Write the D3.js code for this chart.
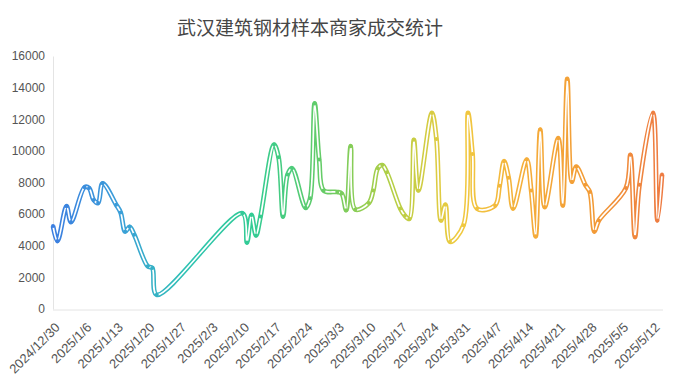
<!DOCTYPE html>
<html>
<head>
<meta charset="utf-8">
<script src="https://cdn.jsdelivr.net/npm/d3@7"></script>
<style>
  html, body { margin: 0; padding: 0; background: #fff; }
  svg { display: block; font-family: "Open Sans", "Noto Sans", sans-serif; }
</style>
</head>
<body>
<svg id="chart" width="692" height="383"></svg>
<script>
// daily deals, Wuhan construction steel sample merchants
const dates = [
  "2024-12-30", "2024-12-31", "2025-01-02", "2025-01-03",
  "2025-01-06", "2025-01-07", "2025-01-08", "2025-01-09", "2025-01-10",
  "2025-01-13", "2025-01-14", "2025-01-15", "2025-01-16", "2025-01-17",
  "2025-01-20", "2025-01-21", "2025-01-22",
  "2025-02-10", "2025-02-11", "2025-02-12", "2025-02-13", "2025-02-14",
  "2025-02-17", "2025-02-18", "2025-02-19", "2025-02-20", "2025-02-21",
  "2025-02-24", "2025-02-25", "2025-02-26", "2025-02-27", "2025-02-28",
  "2025-03-03", "2025-03-04", "2025-03-05", "2025-03-06", "2025-03-07",
  "2025-03-10", "2025-03-11", "2025-03-12", "2025-03-13", "2025-03-14",
  "2025-03-17", "2025-03-18", "2025-03-19", "2025-03-20", "2025-03-21",
  "2025-03-24", "2025-03-25", "2025-03-26", "2025-03-27", "2025-03-28",
  "2025-03-31", "2025-04-01", "2025-04-02", "2025-04-03",
  "2025-04-07", "2025-04-08", "2025-04-09", "2025-04-10", "2025-04-11",
  "2025-04-14", "2025-04-15", "2025-04-16", "2025-04-17", "2025-04-18",
  "2025-04-21", "2025-04-22", "2025-04-23", "2025-04-24", "2025-04-25",
  "2025-04-27", "2025-04-28", "2025-04-29", "2025-04-30",
  "2025-05-06", "2025-05-07", "2025-05-08", "2025-05-09",
  "2025-05-12", "2025-05-13", "2025-05-14"
];
const values = [
  5250, 4300, 6500, 5500,
  7700, 7650, 6900, 6700, 7950,
  6600, 6100, 4900, 5200, 4700,
  2700, 2600, 900,
  6050, 4200, 5950, 4650, 5850,
  10400, 9600, 5850, 8500, 8900,
  6400, 7000, 13000, 9450, 7500,
  7400, 7300, 6250, 10300, 6300,
  6700, 7500, 8900, 9100, 8650,
  6350, 5900, 5700, 10700, 7500,
  12400, 10750, 5600, 6600, 4250,
  5300, 12400, 9800, 6350,
  6550, 7800, 9350, 8300, 6350,
  9450, 7500, 4600, 11350, 6450,
  10800, 6550, 14550, 8050, 9000,
  7850, 7400, 4900, 5600,
  7650, 9750, 4550, 7850,
  12400, 5600, 8500
];
const yTicks = [0, 2000, 4000, 6000, 8000, 10000, 12000, 14000, 16000];
const title = "武汉建筑钢材样本商家成交统计";
const colorStops = ["#3b7ee0", "#3b9fd8", "#2ec3b2", "#33cc92", "#66cc66", "#b4cf45", "#f0ca40", "#f5ad3a", "#f29a36", "#ee7b42"];

const svg = d3.select("#chart");
const parse = d3.timeParse("%Y-%m-%d");
const data = dates.map((d, i) => ({ date: parse(d), value: values[i] }));

const plot = { left: 53, right: 662, top: 56, bottom: 309 };

const x = d3.scaleTime()
  .domain(d3.extent(data, d => d.date))
  .range([plot.left, plot.right]);
const y = d3.scaleLinear()
  .domain([0, 16000])
  .range([plot.bottom, plot.top]);

// horizontal gradient along the line
const grad = svg.append("defs").append("linearGradient")
  .attr("id", "lineGrad")
  .attr("gradientUnits", "userSpaceOnUse")
  .attr("x1", plot.left).attr("x2", plot.right)
  .attr("y1", 0).attr("y2", 0);
grad.selectAll("stop")
  .data(colorStops)
  .enter().append("stop")
  .attr("offset", (d, i) => i / (colorStops.length - 1))
  .attr("stop-color", d => d);

// title
svg.append("text")
  .attr("x", 310)
  .attr("y", 35)
  .attr("text-anchor", "middle")
  .attr("font-family", "'Noto Sans CJK SC', sans-serif")
  .attr("font-size", 19)
  .attr("fill", "#464646")
  .text(title);

// y axis
const yAxis = svg.append("g")
  .attr("transform", `translate(${plot.left},0)`)
  .call(d3.axisLeft(y).tickValues(yTicks).tickSize(0).tickPadding(8).tickFormat(d3.format("d")));
yAxis.select(".domain").attr("stroke", "#e4e4e4");
yAxis.selectAll("text").attr("font-size", 12).attr("fill", "#555");

// x axis, a label every Monday
const xAxis = svg.append("g")
  .attr("transform", `translate(0,${plot.bottom + 1})`)
  .call(d3.axisBottom(x).ticks(d3.timeMonday.every(1)).tickSize(0).tickFormat(d3.timeFormat("%Y/%-m/%-d")));
xAxis.select(".domain").attr("stroke", "#e4e4e4").attr("d", `M${plot.left},0H${plot.right + 1}`);
xAxis.selectAll("text")
  .attr("font-size", 13)
  .attr("fill", "#555")
  .attr("text-anchor", "end")
  .attr("dy", "0.35em")
  .attr("transform", "translate(4,15) rotate(-45)")
  .attr("y", 0)
  .attr("x", 0);

// line drawn twice: coloured body and a thin white core
const line = d3.line()
  .x(d => x(d.date))
  .y(d => y(d.value))
  .curve(d3.curveCatmullRom.alpha(0.5));

svg.append("path")
  .datum(data)
  .attr("fill", "none")
  .attr("stroke", "url(#lineGrad)")
  .attr("stroke-width", 4.8)
  .attr("stroke-linejoin", "round")
  .attr("d", line);

svg.append("path")
  .datum(data)
  .attr("fill", "none")
  .attr("stroke", "#fff")
  .attr("stroke-width", 1.7)
  .attr("stroke-linejoin", "round")
  .attr("d", line);

svg.append("g")
  .selectAll("circle")
  .data(data)
  .enter().append("circle")
  .attr("cx", d => x(d.date))
  .attr("cy", d => y(d.value))
  .attr("r", 2)
  .attr("fill", "url(#lineGrad)");
</script>
</body>
</html>
